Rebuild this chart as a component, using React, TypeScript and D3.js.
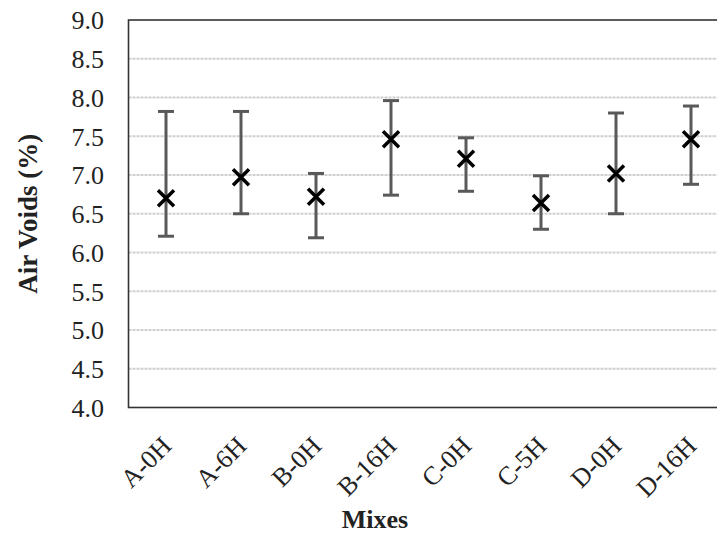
import React from "react";
import * as d3 from "d3";

const categories = ["A-0H", "A-6H", "B-0H", "B-16H", "C-0H", "C-5H", "D-0H", "D-16H"];
const means = [6.70, 6.97, 6.72, 7.46, 7.21, 6.64, 7.02, 7.46];
const upper = [7.82, 7.82, 7.02, 7.96, 7.48, 6.99, 7.80, 7.89];
const lower = [6.21, 6.50, 6.19, 6.74, 6.79, 6.30, 6.50, 6.88];
const yTicks = [4.0, 4.5, 5.0, 5.5, 6.0, 6.5, 7.0, 7.5, 8.0, 8.5, 9.0];

const W = 717;
const H = 533;
const left = 128.5;
const right = 728.5;
const top = 20;
const bottom = 407.5;

export default function App() {
  const x = d3.scaleBand<string>().domain(categories).range([left, right]);
  const y = d3.scaleLinear().domain([4, 9]).range([bottom, top]);
  const font = "Liberation Serif";
  const cap = 8;
  const m = 8;
  return (
    <svg width={W} height={H} style={{ position: "absolute", left: 0, top: 0, background: "#fff" }}>
      <rect x={0} y={0} width={W} height={H} fill="#fff" />
      {yTicks.filter((t) => t > 4 && t < 9).map((t) => (
        <line key={t} x1={left} x2={right} y1={y(t)} y2={y(t)} stroke="#cfcfcf" strokeWidth={2} strokeDasharray="3,1" />
      ))}
      <rect x={left} y={top} width={right - left} height={bottom - top} fill="none" stroke="#333" strokeWidth={1.6} />
      {yTicks.map((t) => (
        <text key={t} x={104} y={y(t)} dy="0.36em" textAnchor="end" style={{ fontFamily: font, fontSize: 26 }} fill="#222">
          {t.toFixed(1)}
        </text>
      ))}
      {categories.map((c, i) => {
        const cx = (x(c) as number) + x.bandwidth() / 2;
        return (
          <g key={c}>
            <line x1={cx} x2={cx} y1={y(upper[i])} y2={y(lower[i])} stroke="#595959" strokeWidth={3} />
            <line x1={cx - cap} x2={cx + cap} y1={y(upper[i])} y2={y(upper[i])} stroke="#595959" strokeWidth={3} />
            <line x1={cx - cap} x2={cx + cap} y1={y(lower[i])} y2={y(lower[i])} stroke="#595959" strokeWidth={3} />
            <path
              d={`M${cx - m},${y(means[i]) - m}L${cx + m},${y(means[i]) + m}M${cx - m},${y(means[i]) + m}L${cx + m},${y(means[i]) - m}`}
              stroke="#000"
              strokeWidth={3.5}
            />
            <text
              transform={`translate(${cx + 7},${bottom + 40}) rotate(-45)`}
              textAnchor="end"
              style={{ fontFamily: font, fontSize: 26 }}
              fill="#222"
            >
              {c}
            </text>
          </g>
        );
      })}
      <text x={375} y={528} textAnchor="middle" style={{ fontFamily: font, fontSize: 26, fontWeight: "bold" }} fill="#222">
        Mixes
      </text>
      <text
        transform={`translate(37,${(top + bottom) / 2}) rotate(-90)`}
        textAnchor="middle"
        style={{ fontFamily: font, fontSize: 27, fontWeight: "bold" }}
        fill="#222"
      >
        Air Voids (%)
      </text>
    </svg>
  );
}
